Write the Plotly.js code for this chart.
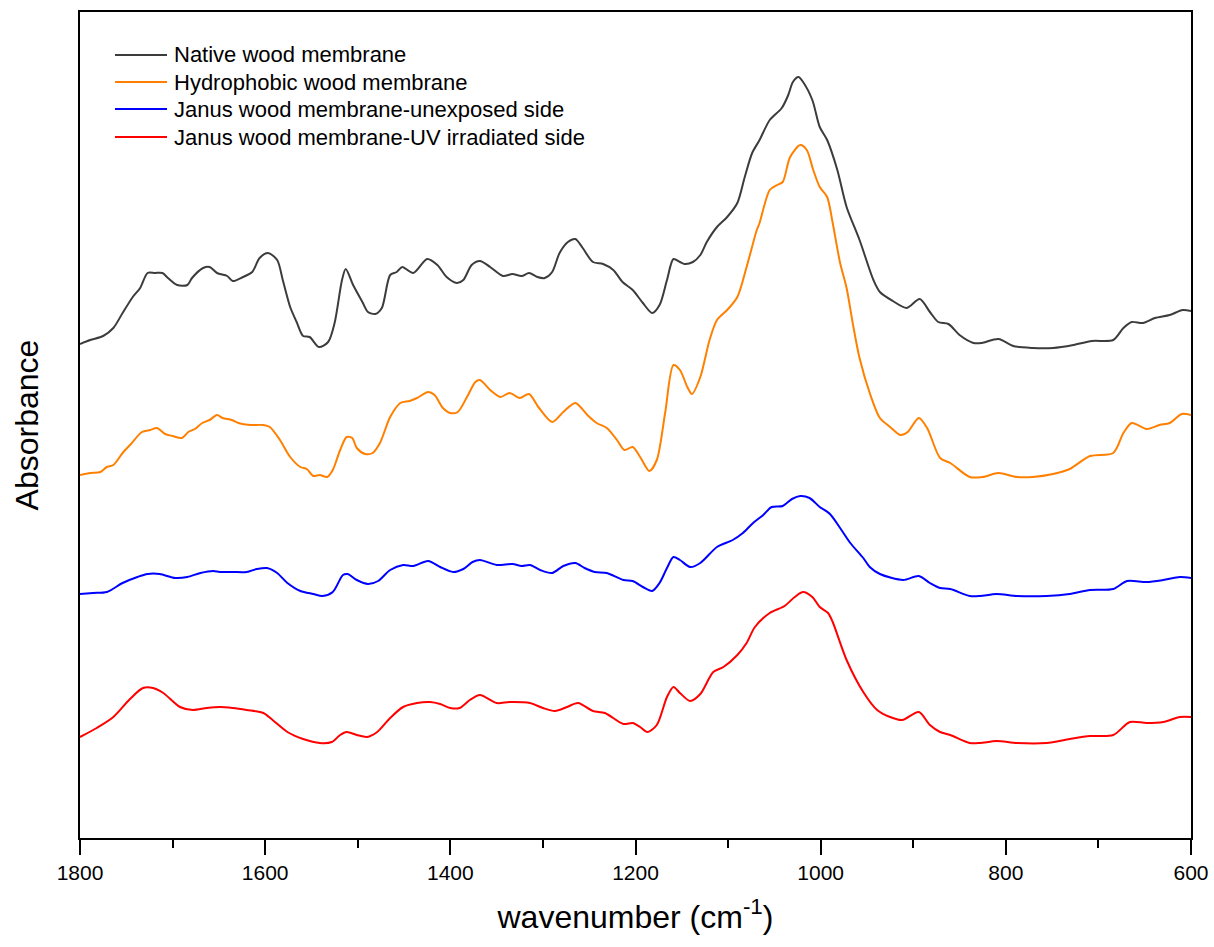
<!DOCTYPE html>
<html>
<head>
<meta charset="utf-8">
<script src="https://cdn.plot.ly/plotly-3.0.1.min.js"></script>
<style>html,body{margin:0;padding:0;background:#fff;}#chart{width:1214px;height:947px;}</style>
</head>
<body>
<div id="chart"></div>
<script>
// Wavenumber (cm-1) and absorbance (arbitrary units, vertically offset)
const wnNative = [1800,1789,1775,1764,1754,1743,1735,1727,1719,1711,1705,1695,1684,1679,1667,1660,1652,1641,1635,1624,1614,1606,1597,1587,1581,1573,1566,1559,1552,1542,1532,1525,1517,1513,1505,1495,1489,1481,1474,1465,1458,1452,1440,1425,1414,1404,1393,1386,1377,1368,1357,1343,1333,1323,1315,1306,1298,1290,1282,1273,1265,1257,1246,1235,1224,1214,1203,1192,1182,1174,1166,1159,1152,1147,1138,1130,1123,1112,1101,1090,1082,1074,1066,1055,1042,1035,1030,1024,1019,1009,1001,993,982,972,958,943,936,922,907,893,882,873,862,850,835,826,808,792,771,749,727,707,684,673,664,652,639,623,609,600];
const absNative = [0.494,0.498,0.502,0.510,0.525,0.541,0.550,0.565,0.565,0.565,0.560,0.553,0.553,0.560,0.570,0.571,0.565,0.562,0.557,0.561,0.566,0.580,0.585,0.578,0.558,0.531,0.516,0.502,0.501,0.491,0.496,0.515,0.558,0.569,0.553,0.536,0.526,0.524,0.530,0.563,0.566,0.571,0.565,0.579,0.573,0.561,0.555,0.558,0.573,0.577,0.571,0.562,0.564,0.562,0.565,0.561,0.560,0.566,0.585,0.596,0.599,0.590,0.576,0.574,0.568,0.556,0.548,0.535,0.525,0.533,0.558,0.579,0.576,0.574,0.576,0.583,0.596,0.611,0.621,0.635,0.661,0.685,0.698,0.718,0.730,0.743,0.756,0.761,0.756,0.738,0.711,0.698,0.668,0.631,0.598,0.558,0.546,0.537,0.530,0.539,0.526,0.516,0.514,0.503,0.495,0.495,0.499,0.492,0.490,0.490,0.493,0.497,0.498,0.510,0.516,0.515,0.520,0.523,0.528,0.527];

const wnHydro = [1800,1789,1778,1771,1764,1754,1746,1733,1724,1717,1708,1700,1690,1683,1676,1668,1660,1652,1646,1636,1629,1616,1602,1595,1584,1573,1562,1555,1548,1541,1533,1527,1519,1512,1506,1501,1492,1484,1476,1465,1454,1444,1436,1424,1417,1408,1400,1392,1382,1373,1368,1357,1346,1336,1325,1315,1305,1290,1278,1265,1252,1242,1231,1220,1212,1203,1195,1185,1177,1168,1159,1152,1144,1139,1130,1120,1112,1101,1090,1080,1069,1066,1055,1047,1041,1033,1022,1015,1008,1001,993,987,979,972,965,958,947,936,925,914,906,894,885,871,860,839,825,808,788,771,749,731,709,684,673,664,648,634,623,610,600];
const absHydro = [0.363,0.365,0.366,0.371,0.373,0.385,0.393,0.406,0.408,0.410,0.404,0.402,0.400,0.406,0.409,0.415,0.418,0.423,0.420,0.418,0.415,0.413,0.413,0.411,0.398,0.381,0.371,0.369,0.362,0.363,0.361,0.368,0.388,0.401,0.400,0.390,0.384,0.385,0.395,0.421,0.435,0.437,0.440,0.446,0.443,0.430,0.425,0.426,0.441,0.456,0.458,0.448,0.441,0.445,0.440,0.444,0.431,0.416,0.426,0.435,0.423,0.415,0.410,0.398,0.388,0.391,0.381,0.367,0.378,0.425,0.473,0.468,0.451,0.444,0.461,0.498,0.518,0.528,0.541,0.571,0.608,0.615,0.648,0.653,0.656,0.681,0.693,0.688,0.668,0.651,0.641,0.615,0.575,0.550,0.513,0.480,0.445,0.420,0.411,0.403,0.406,0.420,0.410,0.380,0.375,0.361,0.361,0.365,0.361,0.361,0.364,0.369,0.382,0.385,0.405,0.415,0.409,0.413,0.415,0.424,0.423];

const wnUnexposed = [1800,1786,1771,1754,1738,1727,1714,1697,1684,1670,1656,1649,1635,1620,1609,1598,1587,1576,1562,1548,1538,1527,1516,1511,1501,1489,1478,1465,1451,1440,1424,1411,1397,1386,1376,1368,1350,1333,1323,1314,1303,1290,1278,1265,1255,1244,1231,1213,1203,1192,1182,1174,1166,1159,1152,1141,1130,1112,1095,1084,1073,1062,1053,1041,1031,1022,1012,1001,990,979,968,954,947,936,911,894,882,871,860,839,828,810,788,756,731,709,684,669,648,630,612,600];
const absUnexposed = [0.244,0.245,0.246,0.255,0.261,0.264,0.264,0.260,0.261,0.265,0.267,0.266,0.266,0.266,0.269,0.270,0.265,0.255,0.247,0.244,0.242,0.246,0.263,0.264,0.258,0.254,0.257,0.268,0.273,0.272,0.277,0.271,0.266,0.269,0.276,0.278,0.273,0.274,0.272,0.273,0.268,0.265,0.272,0.275,0.270,0.266,0.265,0.258,0.257,0.251,0.247,0.255,0.270,0.281,0.278,0.271,0.275,0.291,0.298,0.305,0.315,0.323,0.331,0.332,0.339,0.342,0.340,0.331,0.324,0.310,0.295,0.280,0.271,0.264,0.258,0.262,0.255,0.250,0.249,0.242,0.242,0.244,0.242,0.242,0.244,0.248,0.249,0.257,0.256,0.258,0.261,0.260];

const wnUV = [1800,1782,1764,1746,1732,1721,1710,1692,1678,1663,1649,1635,1620,1602,1592,1576,1559,1541,1528,1519,1512,1501,1490,1479,1465,1451,1436,1422,1411,1400,1390,1379,1368,1350,1336,1314,1300,1287,1274,1262,1246,1233,1213,1203,1195,1187,1177,1166,1159,1152,1141,1130,1116,1105,1090,1080,1071,1055,1039,1028,1019,1009,1001,992,987,972,954,939,925,912,894,882,871,860,839,828,810,788,756,731,709,684,666,648,630,612,600];
const absUV = [0.101,0.110,0.121,0.139,0.150,0.150,0.145,0.131,0.128,0.130,0.131,0.130,0.128,0.125,0.118,0.106,0.099,0.095,0.096,0.103,0.106,0.103,0.101,0.106,0.120,0.131,0.135,0.136,0.134,0.130,0.130,0.138,0.143,0.135,0.136,0.135,0.130,0.127,0.131,0.135,0.127,0.125,0.114,0.115,0.111,0.106,0.113,0.141,0.151,0.145,0.137,0.144,0.166,0.171,0.183,0.195,0.211,0.225,0.232,0.241,0.246,0.241,0.231,0.225,0.216,0.178,0.146,0.128,0.121,0.118,0.126,0.113,0.106,0.103,0.095,0.095,0.097,0.095,0.095,0.099,0.102,0.103,0.116,0.115,0.116,0.121,0.121];

const seriesNames = ["Native wood membrane","Hydrophobic wood membrane","Janus wood membrane-unexposed side","Janus wood membrane-UV irradiated side"];
const xTickVals = [1800,1600,1400,1200,1000,800,600];
const xMinorTickVals = [1700,1500,1300,1100,900,700];

const colors = ["#3c3c3c","#ff8000","#0000ff","#ff0000"];
const xs = [wnNative, wnHydro, wnUnexposed, wnUV];
const ys = [absNative, absHydro, absUnexposed, absUV];

const traces = seriesNames.map((n,i)=>({
  type:"scatter", mode:"lines", name:n, x:xs[i], y:ys[i],
  line:{color:colors[i], width:2, shape:"spline", smoothing:0.8},
  hoverinfo:"x+y+name", showlegend:false
}));

// Legend drawn in paper coordinates (box at top-left inside the frame)
const W = 1214, H = 947, mL = 80, mR = 23, mT = 12, mB = 109;
const pw = W - mL - mR, ph = H - mT - mB;
const px = v => (v - mL) / pw;
const py = v => (H - mB - v) / ph;
const legRows = [55, 82, 109, 137];
const shapes = seriesNames.map((n,i)=>({
  type:"line", xref:"paper", yref:"paper",
  x0:px(115), x1:px(167), y0:py(legRows[i]), y1:py(legRows[i]),
  line:{color:colors[i], width:2}
}));
const font = "Liberation Sans, Arial, sans-serif";
const annotations = seriesNames.map((n,i)=>({
  xref:"paper", yref:"paper", x:px(172), y:py(legRows[i]),
  xanchor:"left", yanchor:"middle", showarrow:false, text:n,
  font:{family:font, size:22, color:"#000"}
}));

const layout = {
  width:W, height:H,
  margin:{l:mL, r:mR, t:mT, b:mB},
  paper_bgcolor:"#fff", plot_bgcolor:"#fff",
  font:{family:font, color:"#000", size:21},
  showlegend:false,
  shapes:shapes, annotations:annotations,
  xaxis:{
    range:[1800,600], autorange:false,
    tickmode:"array", tickvals:xTickVals, ticktext:xTickVals.map(String),
    ticks:"outside", ticklen:15, tickwidth:2, tickcolor:"#000",
    minor:{tickmode:"array", tickvals:xMinorTickVals, ticks:"outside", ticklen:8, tickwidth:2, tickcolor:"#000"},
    showline:true, linecolor:"#000", linewidth:2, mirror:true,
    showgrid:false, zeroline:false,
    tickfont:{family:font, size:21, color:"#000"},
    title:{text:"wavenumber (cm<sup>-1</sup>)", font:{family:font, size:32, color:"#000"}, standoff:22}
  },
  yaxis:{
    range:[0,0.826], autorange:false,
    showticklabels:false, ticks:"",
    showline:true, linecolor:"#000", linewidth:2, mirror:true,
    showgrid:false, zeroline:false,
    title:{text:"Absorbance", font:{family:font, size:32, color:"#000"}, standoff:30}
  }
};

Plotly.newPlot("chart", traces, layout, {displayModeBar:false, responsive:false});
</script>
</body>
</html>
